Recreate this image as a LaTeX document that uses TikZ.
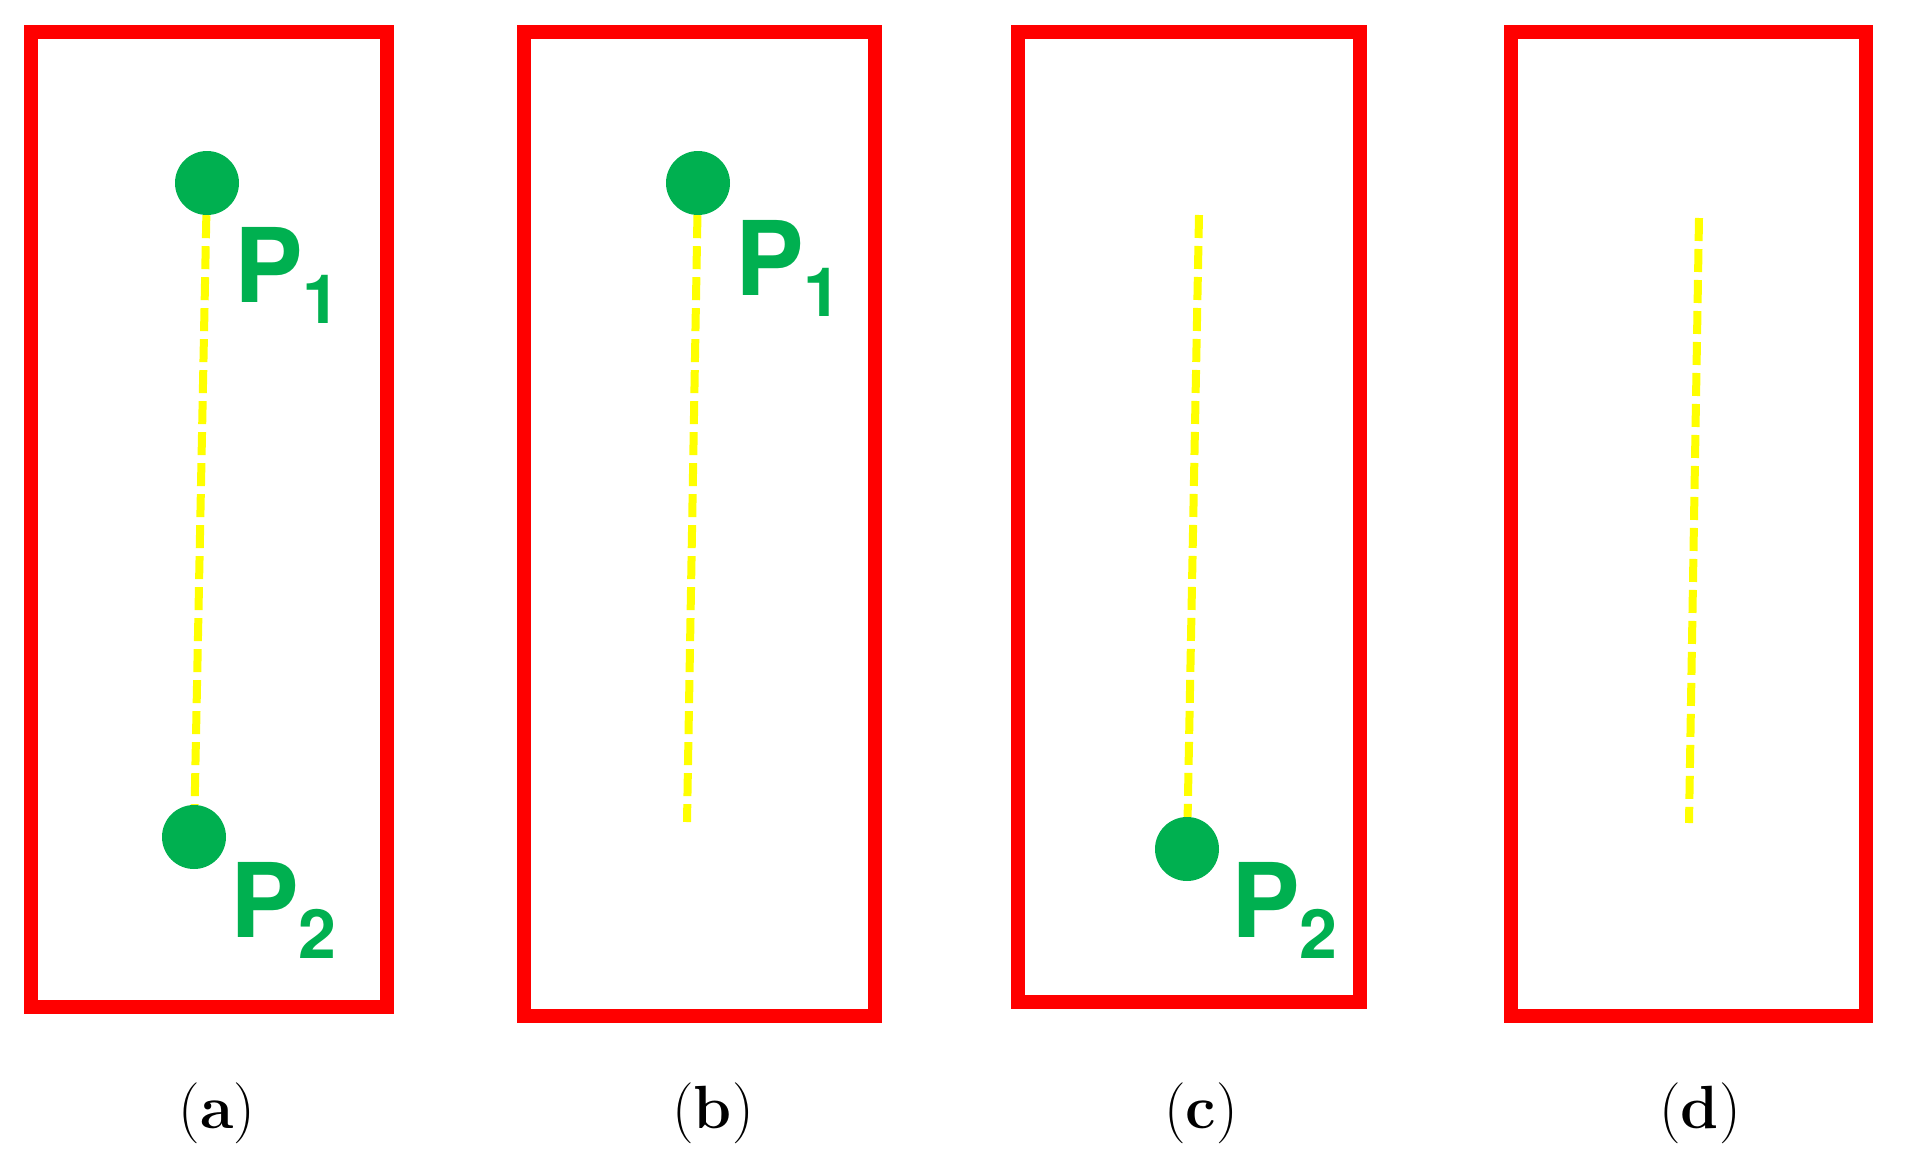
\documentclass[tikz,border=0pt]{standalone}
\usepackage{fontspec}
\newfontfamily\lblfont{TeX Gyre Heros}
\definecolor{ptgreen}{HTML}{00B050}
\definecolor{boxred}{HTML}{FF0000}
\definecolor{trackyellow}{HTML}{FFFF00}
\tikzset{
  panelbox/.style={draw=boxred, line width=14pt, line join=miter},
  ptdot/.style={circle, fill=ptgreen, draw=none, minimum size=64pt, inner sep=0pt},
  track/.style={draw=trackyellow, line width=8pt, dash pattern=on 23pt off 8pt},
  ptlabel/.style={anchor=base west, inner sep=0pt, text=ptgreen, font=\lblfont\bfseries\fontsize{103}{103}\selectfont},
  caption/.style={anchor=base, inner sep=0pt, font=\fontsize{61}{61}\selectfont}
}
\newcommand{\ptsub}[1]{\raisebox{-21pt}{\fontsize{68}{68}\selectfont #1}}
\begin{document}
\begin{tikzpicture}[x=1pt,y=-1pt]
\useasboundingbox (0,0) rectangle (1907,1170);
% panel (a)
\draw[panelbox] (31,32) rectangle (387,1007);
\node[ptdot] (p1a) at (207,183) {};
\node[ptdot] (p2a) at (194,837) {};
\draw[track] (p1a) -- (p2a);
\node[ptlabel] (l1a) at (234,302) {P\ptsub{1}};
\node[ptlabel] (l2a) at (230,937) {P\ptsub{2}};
\node[caption] (capa) at (217,1128) {(\textbf{a})};
% panel (b)
\draw[panelbox] (524,32) rectangle (874.5,1016);
\node[ptdot] (p1b) at (698,183) {};
\coordinate (eb) at (687,822);
\draw[track] (p1b) -- (eb);
\node[ptlabel] (l1b) at (735,295) {P\ptsub{1}};
\node[caption] (capb) at (713,1128) {(\textbf{b})};
% panel (c)
\draw[panelbox] (1017.5,32) rectangle (1360,1002);
\coordinate (sc) at (1199,215);
\node[ptdot] (p2c) at (1187,849) {};
\draw[track] (sc) -- (p2c);
\node[ptlabel] (l2c) at (1231,937) {P\ptsub{2}};
\node[caption] (capc) at (1201,1128) {(\textbf{c})};
% panel (d)
\draw[panelbox] (1511,32) rectangle (1866,1016);
\coordinate (sd) at (1699,218);
\coordinate (ed) at (1689,823);
\draw[track] (sd) -- (ed);
\node[caption] (capd) at (1700,1128) {(\textbf{d})};
\end{tikzpicture}
\end{document}
